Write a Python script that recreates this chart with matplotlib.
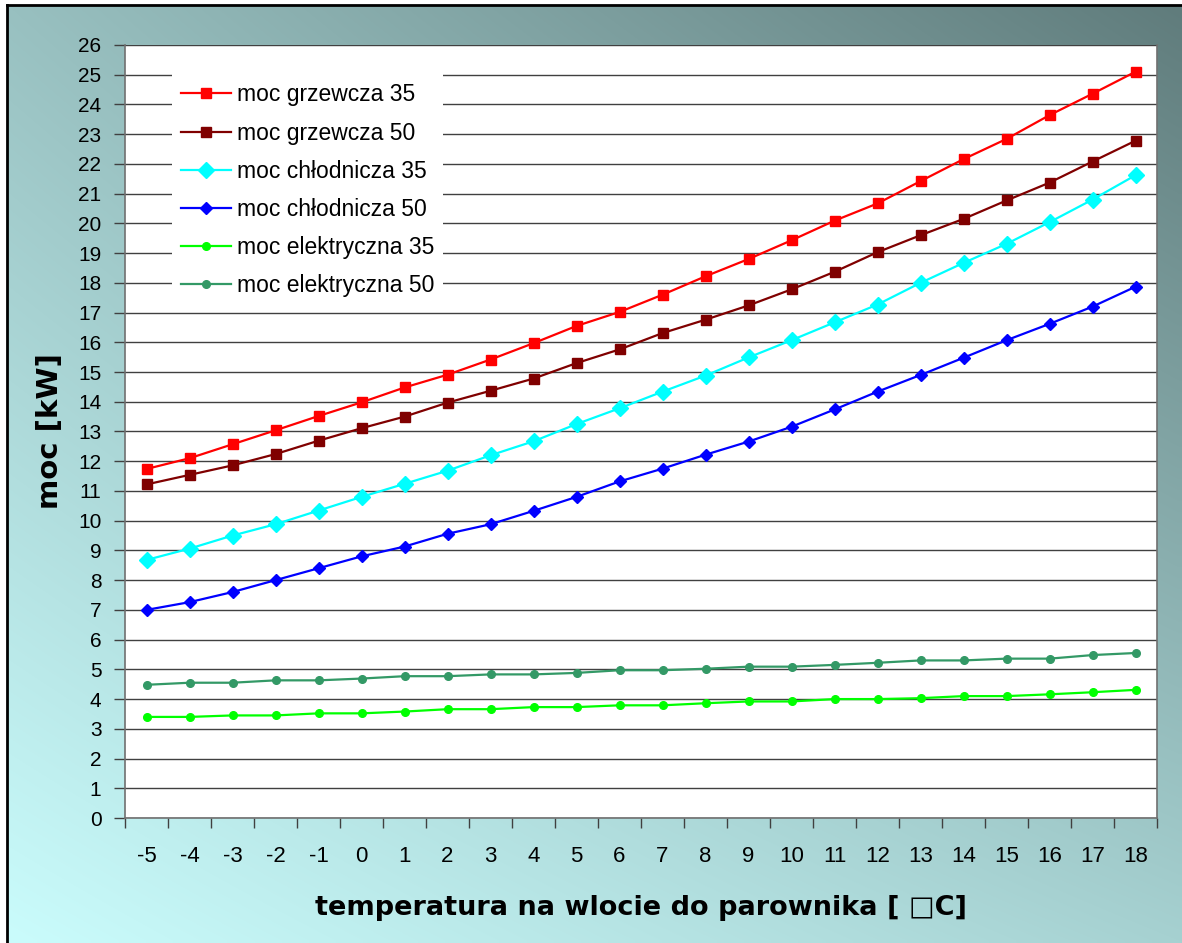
import numpy as np
import matplotlib
matplotlib.use("Agg")
import matplotlib.pyplot as plt

# dane
temps = list(range(-5, 19))
grzewcza_35 = [11.74, 12.1, 12.57, 13.04, 13.52, 13.98, 14.48, 14.91, 15.42, 15.97, 16.55, 17.02,
               17.6, 18.22, 18.8, 19.43, 20.09, 20.67, 21.42, 22.16, 22.84, 23.64, 24.36, 25.1]
grzewcza_50 = [11.22, 11.54, 11.86, 12.24, 12.69, 13.11, 13.5, 13.97, 14.37, 14.78, 15.3, 15.76,
               16.31, 16.76, 17.24, 17.78, 18.37, 19.03, 19.6, 20.15, 20.77, 21.37, 22.08, 22.78]
chlodnicza_35 = [8.68, 9.06, 9.5, 9.88, 10.34, 10.8, 11.24, 11.68, 12.2, 12.67, 13.25, 13.78,
                 14.34, 14.88, 15.49, 16.07, 16.67, 17.27, 18.0, 18.67, 19.31, 20.04, 20.8, 21.62]
chlodnicza_50 = [7.0, 7.26, 7.6, 8.0, 8.4, 8.8, 9.13, 9.56, 9.88, 10.33, 10.8, 11.32,
                 11.75, 12.22, 12.66, 13.16, 13.74, 14.34, 14.9, 15.48, 16.07, 16.62, 17.2, 17.87]
elektryczna_35 = [3.4, 3.4, 3.45, 3.45, 3.52, 3.52, 3.58, 3.66, 3.66, 3.73, 3.73, 3.79,
                  3.79, 3.86, 3.92, 3.92, 4.0, 4.0, 4.03, 4.1, 4.1, 4.16, 4.23, 4.31]
elektryczna_50 = [4.48, 4.55, 4.55, 4.63, 4.63, 4.69, 4.77, 4.77, 4.83, 4.83, 4.88, 4.97,
                  4.97, 5.02, 5.09, 5.09, 5.15, 5.22, 5.3, 5.3, 5.36, 5.36, 5.48, 5.55]

series = [
    ("moc grzewcza 35", grzewcza_35, "#FF0000", "s", 6.5),
    ("moc grzewcza 50", grzewcza_50, "#800000", "s", 6.5),
    ("moc chłodnicza 35", chlodnicza_35, "#00FFFF", "D", 8.5),
    ("moc chłodnicza 50", chlodnicza_50, "#0000FF", "D", 6),
    ("moc elektryczna 35", elektryczna_35, "#00FF00", "o", 5.5),
    ("moc elektryczna 50", elektryczna_50, "#339966", "o", 5.5),
]

W, H = 1182, 943
fig = plt.figure(figsize=(W / 100, H / 100), dpi=100, facecolor="white")

# tlo z gradientem
bg = fig.add_axes([0, 0, 1, 1], zorder=-10)
bg.set_xlim(0, W)
bg.set_ylim(H, 0)
bg.axis("off")
tl = np.array([0x98, 0xC0, 0xC0]) / 255
tr = np.array([0x60, 0x7C, 0x7C]) / 255
bl = np.array([0xCA, 0xFC, 0xFC]) / 255
br = np.array([0xA6, 0xD1, 0xD1]) / 255
u = np.linspace(0, 1, 200)[None, :, None]
v = np.linspace(0, 1, 200)[:, None, None]
grad = (1 - v) * ((1 - u) * tl + u * tr) + v * ((1 - u) * bl + u * br)
bg.imshow(grad, extent=(7, W, H, 5), aspect="auto", interpolation="bilinear")
bg.plot([7, 7], [5, H], color="black", lw=2)
bg.plot([7, W], [5, 5], color="black", lw=2)

ax = fig.add_axes([125 / W, 1 - 818 / H, (1157 - 125) / W, (818 - 45) / H])
ax.set_facecolor("white")

for label, vals, col, mk, ms in series:
    ax.plot(temps, vals, color=col, lw=1.6, marker=mk, markersize=ms,
            markerfacecolor=col, markeredgecolor=col, label=label, zorder=3)

ax.set_xlim(temps[0] - 0.5, temps[-1] + 0.5)
ax.set_ylim(0, 26)
ax.set_yticks(range(0, 27))
ax.yaxis.grid(True, color="#404040", lw=1.0)
ax.set_axisbelow(True)

ax.set_xticks(np.arange(temps[0] - 0.5, temps[-1] + 1, 1.0))
ax.set_xticklabels([])
ax.set_xticks(temps, minor=True)
ax.set_xticklabels([str(t) for t in temps], minor=True)
ax.tick_params(axis="x", which="major", length=7, width=1, color="#404040", direction="out")
ax.tick_params(axis="x", which="minor", length=0, pad=20, labelsize=16)
ax.tick_params(axis="y", length=8, width=1, color="#404040", direction="out", pad=9, labelsize=15)
for lab in ax.get_xticklabels(minor=True) + ax.get_yticklabels():
    lab.set_family(["Liberation Sans", "DejaVu Sans"])

ax.spines["top"].set_visible(False)
for s in ["left", "bottom", "right"]:
    ax.spines[s].set_color("#707070")
    ax.spines[s].set_linewidth(1.2)

ax.set_ylabel("moc [kW]", fontsize=21, fontweight="bold", labelpad=10,
              family="DejaVu Sans")
ax.set_xlabel("temperatura na wlocie do parownika [ \u25a1C]", fontsize=19.5, fontweight="bold",
              labelpad=20, family="DejaVu Sans")

leg = ax.legend(loc="upper left", bbox_to_anchor=(0.034, 0.977), frameon=True,
                facecolor="white", edgecolor="none", framealpha=1, fancybox=False,
                borderpad=0.4, handlelength=2.2, handletextpad=0.25, labelspacing=0.66,
                prop={"family": ["Liberation Sans", "DejaVu Sans"], "size": 16.5})
leg.set_zorder(5)

fig.savefig("out.png", dpi=100, facecolor="white")
